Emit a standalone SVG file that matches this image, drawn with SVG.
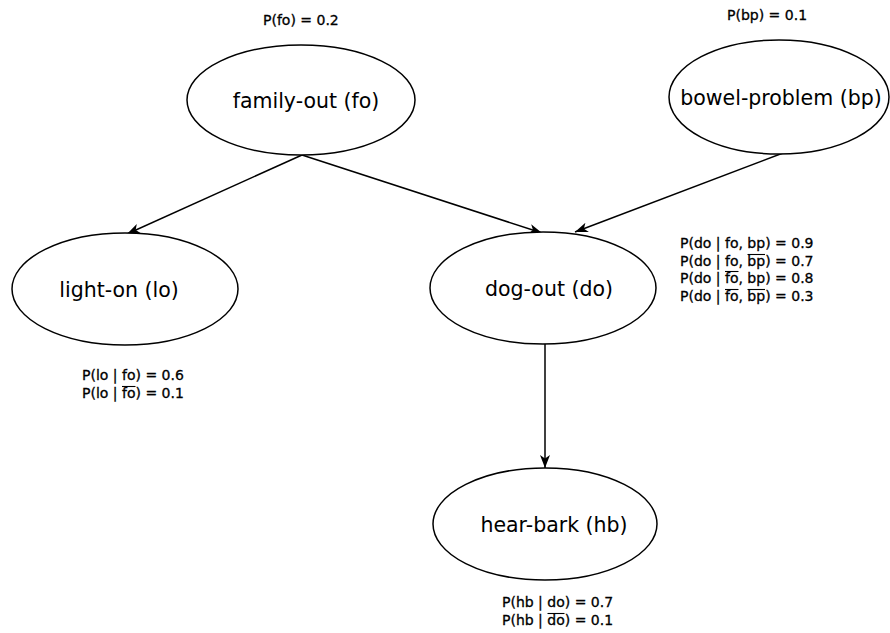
<svg xmlns="http://www.w3.org/2000/svg" width="890" height="633" viewBox="0 0 890 633">
<defs>
<style>
.node ellipse{fill:#fff;stroke:#000;stroke-width:1.5}
.node text{font-family:"DejaVu Sans","Liberation Sans",sans-serif;font-size:20.5px;fill:#000;text-anchor:middle}
.lbl{font-family:"DejaVu Sans","Liberation Sans",sans-serif;font-size:14px;fill:#000;stroke:#000;stroke-width:0.3}
.bar{stroke:#000;stroke-width:1.1}
.edge{stroke:#000;stroke-width:1.5;fill:none;marker-end:url(#arr)}
</style>
<marker id="arr" markerUnits="userSpaceOnUse" markerWidth="14" markerHeight="12" refX="13" refY="5" orient="auto">
<path d="M0,0 L13,5 L0,10 L3.5,5 Z" fill="#000"/>
</marker>
</defs>
<rect width="890" height="633" fill="#fff"/>
<g id="connectors">
<line class="edge" x1="302" y1="155" x2="127" y2="234"/>
<line class="edge" x1="302" y1="155" x2="542" y2="233"/>
<line class="edge" x1="783" y1="153" x2="575" y2="232"/>
<line class="edge" x1="545" y1="344" x2="545" y2="468"/>
</g>
<g id="family-out" class="node">
<ellipse cx="301" cy="100" rx="114" ry="55"/>
<text x="306" y="108">family-out (fo)</text>
</g>
<g id="bowel-problem" class="node">
<ellipse cx="779" cy="97" rx="110" ry="57"/>
<text x="781" y="105">bowel-problem (bp)</text>
</g>
<g id="light-on" class="node">
<ellipse cx="125" cy="289" rx="113" ry="56"/>
<text x="119" y="297">light-on (lo)</text>
</g>
<g id="dog-out" class="node">
<ellipse cx="543" cy="288" rx="113" ry="56"/>
<text x="549" y="296">dog-out (do)</text>
</g>
<g id="hear-bark" class="node">
<ellipse cx="545" cy="524" rx="112" ry="56"/>
<text x="554" y="532">hear-bark (hb)</text>
</g>
<g id="labels">
<text class="lbl" x="263" y="25">P(fo) = 0.2</text>
<text class="lbl" x="727" y="20">P(bp) = 0.1</text>
<text class="lbl" x="680" y="248">P(do | fo, bp) = 0.9</text>
<text class="lbl" x="680" y="266">P(do | fo, bp) = 0.7</text>
<text class="lbl" x="680" y="283">P(do | fo, bp) = 0.8</text>
<text class="lbl" x="680" y="301">P(do | fo, bp) = 0.3</text>
<text class="lbl" x="82" y="380">P(lo | fo) = 0.6</text>
<text class="lbl" x="82" y="398">P(lo | fo) = 0.1</text>
<text class="lbl" x="502" y="607">P(hb | do) = 0.7</text>
<text class="lbl" x="502" y="625">P(hb | do) = 0.1</text>
<line class="bar" x1="747.5" y1="254.5" x2="765" y2="254.5"/>
<line class="bar" x1="725" y1="271.5" x2="738.5" y2="271.5"/>
<line class="bar" x1="725" y1="289.5" x2="738.5" y2="289.5"/>
<line class="bar" x1="747.5" y1="289.5" x2="765" y2="289.5"/>
<line class="bar" x1="122" y1="386.5" x2="135.5" y2="386.5"/>
<line class="bar" x1="547.5" y1="613.5" x2="564.5" y2="613.5"/>
</g>
</svg>
